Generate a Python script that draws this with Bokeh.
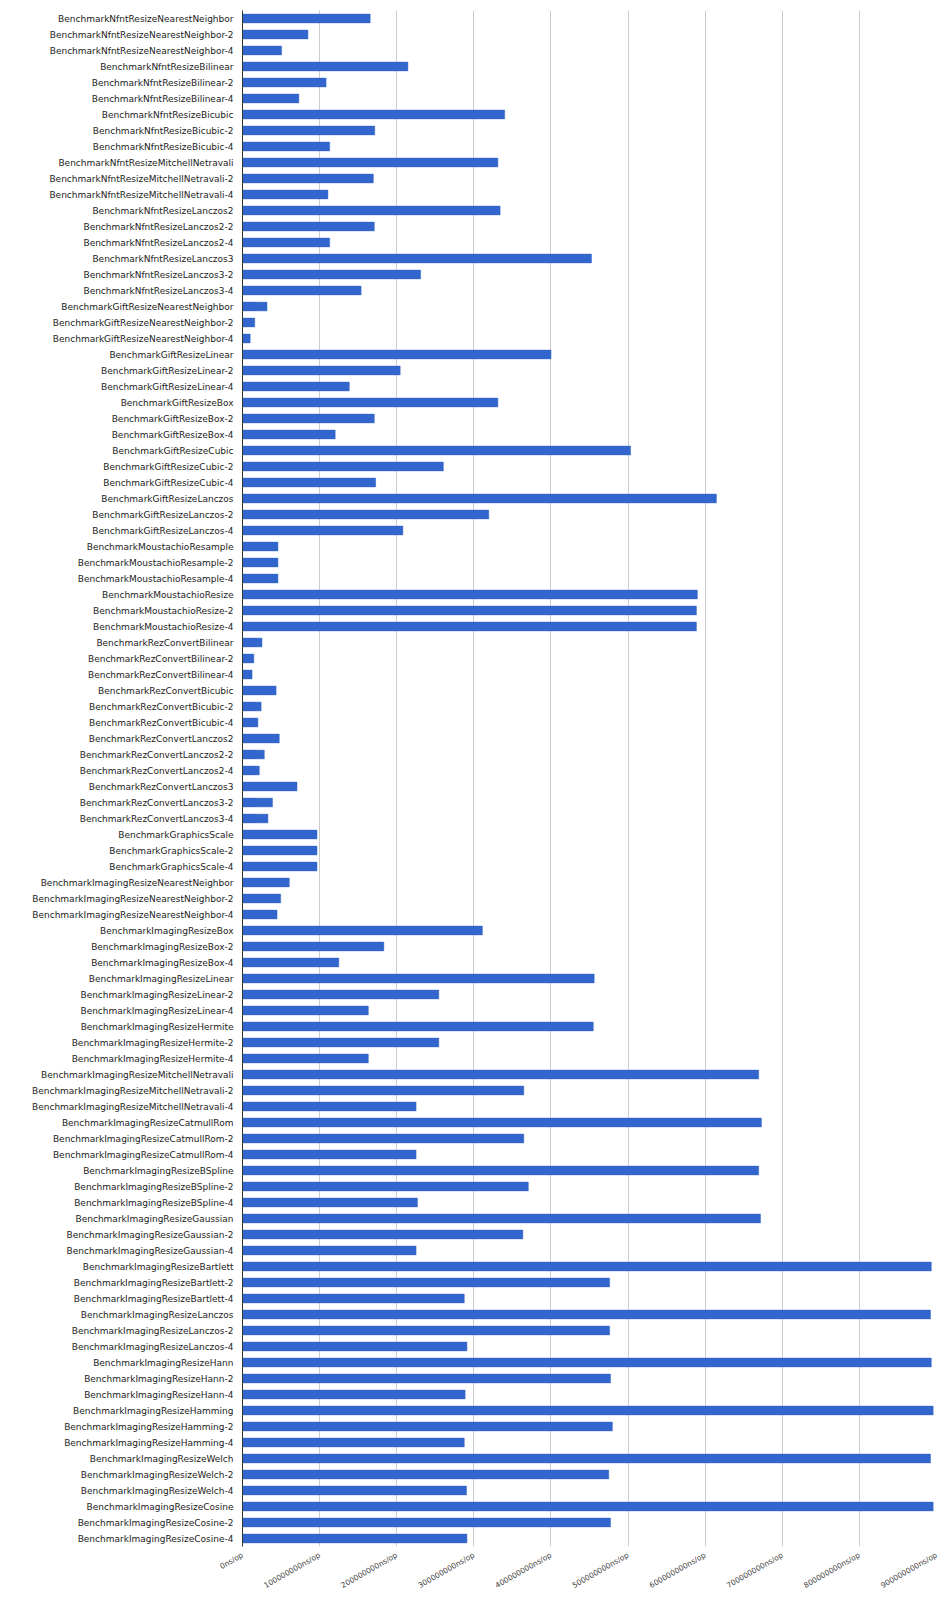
from bokeh.plotting import figure
from bokeh.models import FactorRange, Range1d, FixedTicker, CustomJSTickFormatter, ColumnDataSource
from bokeh.embed import file_html
from bokeh.resources import INLINE

benchmarks = [
    "BenchmarkNfntResizeNearestNeighbor", "BenchmarkNfntResizeNearestNeighbor-2", "BenchmarkNfntResizeNearestNeighbor-4",
    "BenchmarkNfntResizeBilinear", "BenchmarkNfntResizeBilinear-2", "BenchmarkNfntResizeBilinear-4",
    "BenchmarkNfntResizeBicubic", "BenchmarkNfntResizeBicubic-2", "BenchmarkNfntResizeBicubic-4",
    "BenchmarkNfntResizeMitchellNetravali", "BenchmarkNfntResizeMitchellNetravali-2", "BenchmarkNfntResizeMitchellNetravali-4",
    "BenchmarkNfntResizeLanczos2", "BenchmarkNfntResizeLanczos2-2", "BenchmarkNfntResizeLanczos2-4",
    "BenchmarkNfntResizeLanczos3", "BenchmarkNfntResizeLanczos3-2", "BenchmarkNfntResizeLanczos3-4",
    "BenchmarkGiftResizeNearestNeighbor", "BenchmarkGiftResizeNearestNeighbor-2", "BenchmarkGiftResizeNearestNeighbor-4",
    "BenchmarkGiftResizeLinear", "BenchmarkGiftResizeLinear-2", "BenchmarkGiftResizeLinear-4",
    "BenchmarkGiftResizeBox", "BenchmarkGiftResizeBox-2", "BenchmarkGiftResizeBox-4",
    "BenchmarkGiftResizeCubic", "BenchmarkGiftResizeCubic-2", "BenchmarkGiftResizeCubic-4",
    "BenchmarkGiftResizeLanczos", "BenchmarkGiftResizeLanczos-2", "BenchmarkGiftResizeLanczos-4",
    "BenchmarkMoustachioResample", "BenchmarkMoustachioResample-2", "BenchmarkMoustachioResample-4",
    "BenchmarkMoustachioResize", "BenchmarkMoustachioResize-2", "BenchmarkMoustachioResize-4",
    "BenchmarkRezConvertBilinear", "BenchmarkRezConvertBilinear-2", "BenchmarkRezConvertBilinear-4",
    "BenchmarkRezConvertBicubic", "BenchmarkRezConvertBicubic-2", "BenchmarkRezConvertBicubic-4",
    "BenchmarkRezConvertLanczos2", "BenchmarkRezConvertLanczos2-2", "BenchmarkRezConvertLanczos2-4",
    "BenchmarkRezConvertLanczos3", "BenchmarkRezConvertLanczos3-2", "BenchmarkRezConvertLanczos3-4",
    "BenchmarkGraphicsScale", "BenchmarkGraphicsScale-2", "BenchmarkGraphicsScale-4",
    "BenchmarkImagingResizeNearestNeighbor", "BenchmarkImagingResizeNearestNeighbor-2", "BenchmarkImagingResizeNearestNeighbor-4",
    "BenchmarkImagingResizeBox", "BenchmarkImagingResizeBox-2", "BenchmarkImagingResizeBox-4",
    "BenchmarkImagingResizeLinear", "BenchmarkImagingResizeLinear-2", "BenchmarkImagingResizeLinear-4",
    "BenchmarkImagingResizeHermite", "BenchmarkImagingResizeHermite-2", "BenchmarkImagingResizeHermite-4",
    "BenchmarkImagingResizeMitchellNetravali", "BenchmarkImagingResizeMitchellNetravali-2", "BenchmarkImagingResizeMitchellNetravali-4",
    "BenchmarkImagingResizeCatmullRom", "BenchmarkImagingResizeCatmullRom-2", "BenchmarkImagingResizeCatmullRom-4",
    "BenchmarkImagingResizeBSpline", "BenchmarkImagingResizeBSpline-2", "BenchmarkImagingResizeBSpline-4",
    "BenchmarkImagingResizeGaussian", "BenchmarkImagingResizeGaussian-2", "BenchmarkImagingResizeGaussian-4",
    "BenchmarkImagingResizeBartlett", "BenchmarkImagingResizeBartlett-2", "BenchmarkImagingResizeBartlett-4",
    "BenchmarkImagingResizeLanczos", "BenchmarkImagingResizeLanczos-2", "BenchmarkImagingResizeLanczos-4",
    "BenchmarkImagingResizeHann", "BenchmarkImagingResizeHann-2", "BenchmarkImagingResizeHann-4",
    "BenchmarkImagingResizeHamming", "BenchmarkImagingResizeHamming-2", "BenchmarkImagingResizeHamming-4",
    "BenchmarkImagingResizeWelch", "BenchmarkImagingResizeWelch-2", "BenchmarkImagingResizeWelch-4",
    "BenchmarkImagingResizeCosine", "BenchmarkImagingResizeCosine-2", "BenchmarkImagingResizeCosine-4",
]

ns_per_op = [
    165600000, 84900000, 50700000,
    214500000, 108400000, 73100000,
    340000000, 171500000, 113100000,
    331200000, 169700000, 110800000,
    334100000, 170900000, 113100000,
    452600000, 231000000, 153800000,
    31800000, 15900000, 10000000,
    400100000, 204500000, 138500000,
    331200000, 170900000, 120200000,
    503200000, 260500000, 172700000,
    614600000, 319400000, 208000000,
    46000000, 46000000, 46000000,
    589900000, 588700000, 588700000,
    25300000, 14700000, 12400000,
    43600000, 24200000, 20000000,
    47700000, 28300000, 21800000,
    70700000, 38900000, 33000000,
    96600000, 96600000, 96600000,
    60700000, 49500000, 44800000,
    311100000, 183300000, 124900000,
    456100000, 254600000, 163200000,
    454900000, 254600000, 163200000,
    669400000, 364800000, 225100000,
    673000000, 364800000, 225100000,
    669400000, 370700000, 226900000,
    671800000, 363600000, 225100000,
    893300000, 476100000, 287600000,
    892200000, 476100000, 291100000,
    893300000, 477300000, 288700000,
    895700000, 479700000, 287600000,
    892200000, 475000000, 290500000,
    895700000, 477300000, 291100000,
]

x_ticks = [0, 100000000, 200000000, 300000000, 400000000, 500000000,
           600000000, 700000000, 800000000, 900000000]

source = ColumnDataSource(data=dict(name=benchmarks, value=ns_per_op))

p = figure(
    width=940, height=1596,
    y_range=FactorRange(factors=list(reversed(benchmarks)), range_padding=0),
    x_range=Range1d(0, 900000000),
    output_backend="svg", toolbar_location=None,
    min_border_left=242, min_border_right=4, min_border_top=10, min_border_bottom=50,
)
p.outline_line_color = None
p.background_fill_color = "white"

p.hbar(y="name", right="value", left=0, height=0.55, source=source,
       fill_color="#3366cc", line_color="#3366cc", line_alpha=0.45, line_width=1)

# x axis
p.xaxis.ticker = FixedTicker(ticks=x_ticks)
p.xaxis.formatter = CustomJSTickFormatter(code='return Math.round(tick).toString() + "ns/op";')
p.xaxis.major_label_orientation = 0.52
p.xaxis.axis_line_color = None
p.xaxis.major_tick_line_color = None
p.xaxis.minor_tick_line_color = None
p.xaxis.major_tick_out = 0
p.xaxis.major_tick_in = 0
p.xaxis.major_label_text_font = "DejaVu Sans"
p.xaxis.major_label_text_font_size = "7.5px"
p.xaxis.major_label_text_color = "#444444"
p.xaxis.major_label_standoff = 8

# y axis
p.yaxis.axis_line_color = "#333333"
p.yaxis.axis_line_width = 1
p.yaxis.major_tick_line_color = None
p.yaxis.minor_tick_line_color = None
p.yaxis.major_tick_out = 0
p.yaxis.major_tick_in = 0
p.yaxis.major_label_text_font = "DejaVu Sans"
p.yaxis.major_label_text_font_size = "9px"
p.yaxis.major_label_text_color = "#222222"
p.yaxis.major_label_standoff = 9

p.xgrid.ticker = FixedTicker(ticks=x_ticks)
p.xgrid.grid_line_color = "#cccccc"
p.xgrid.grid_line_width = 1
p.ygrid.grid_line_color = None

open("out.html", "w").write(file_html(p, INLINE))
